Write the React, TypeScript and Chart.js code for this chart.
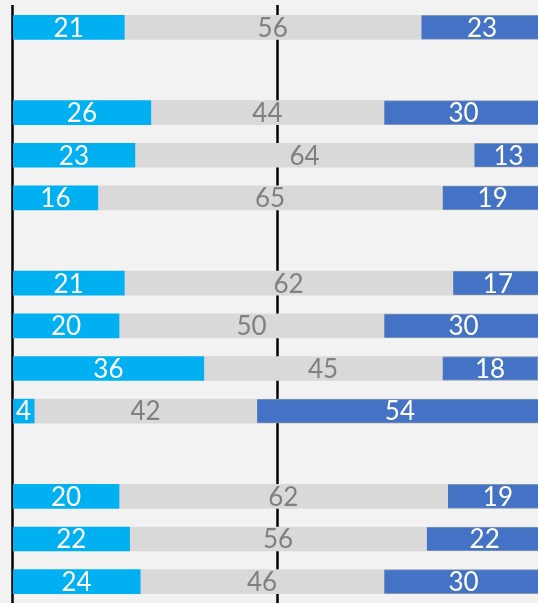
import React, { useEffect, useRef } from "react";
import { Chart, registerables } from "chart.js";

Chart.register(...registerables);

const categories = ["R1", "", "R3", "R4", "R5", " ", "R7", "R8", "R9", "R10", "  ", "R12", "R13", "R14"];
const lowValues = [21, null, 26, 23, 16, null, 21, 20, 36, 4, null, 20, 22, 24];
const midValues = [56, null, 44, 64, 65, null, 62, 50, 45, 42, null, 62, 56, 46];
const highValues = [23, null, 30, 13, 19, null, 17, 30, 18, 54, null, 19, 22, 30];
const refLines = [0, 50];

const labelPlugin = {
  id: "segLabels",
  afterDatasetsDraw(chart: any) {
    const ctx = chart.ctx;
    const xs = chart.scales.x;
    ctx.save();
    ctx.font = "26px Lato";
    ctx.textAlign = "center";
    ctx.textBaseline = "middle";
    chart.data.datasets.forEach((ds: any, di: number) => {
      const meta = chart.getDatasetMeta(di);
      ds.data.forEach((v: any, i: number) => {
        if (v == null) return;
        let start = 0;
        for (let k = 0; k < di; k++) start += chart.data.datasets[k].data[i] || 0;
        const x0 = xs.getPixelForValue(start);
        const x1 = xs.getPixelForValue(start + v);
        const el = meta.data[i];
        ctx.fillStyle = ds.labelColor;
        ctx.fillText(String(v), (x0 + x1) / 2, el.y + 1);
      });
    });
    ctx.restore();
  },
};

const linePlugin = {
  id: "refLines",
  beforeDatasetsDraw(chart: any) {
    const ctx = chart.ctx;
    const xs = chart.scales.x;
    const area = chart.chartArea;
    ctx.save();
    ctx.strokeStyle = "#000000";
    ctx.lineWidth = 2.5;
    refLines.forEach((v) => {
      const x = Math.round(xs.getPixelForValue(v)) - 0.5;
      ctx.beginPath();
      ctx.moveTo(x, area.top - 1);
      ctx.lineTo(x, 603);
      ctx.stroke();
    });
    ctx.restore();
  },
};

export default function App() {
  const ref = useRef<HTMLCanvasElement | null>(null);
  useEffect(() => {
    if (!ref.current) return;
    const chart = new Chart(ref.current, {
      type: "bar",
      data: {
        labels: categories,
        datasets: [
          { label: "low", data: lowValues, backgroundColor: "#00B0F0", borderWidth: 0, labelColor: "#FFFFFF" } as any,
          { label: "mid", data: midValues, backgroundColor: "#D9D9D9", borderWidth: 0, labelColor: "#808080" } as any,
          { label: "high", data: highValues, backgroundColor: "#4472C4", borderColor: "#8497B0", borderWidth: 1, labelColor: "#FFFFFF" } as any,
        ],
      },
      options: {
        indexAxis: "y",
        animation: false,
        responsive: false,
        maintainAspectRatio: false,
        layout: { padding: { top: 6, left: 13, right: 0, bottom: -2 } },
        datasets: { bar: { barThickness: 24 } } as any,
        plugins: { legend: { display: false }, tooltip: { enabled: false } },
        scales: {
          x: {
            stacked: true,
            min: 0,
            max: 99.06,
            display: false,
          },
          y: {
            stacked: true,
            display: false,
            offset: true,
          },
        },
      },
      plugins: [linePlugin, labelPlugin],
    });
    return () => chart.destroy();
  }, []);
  return (
    <div style={{ position: "fixed", left: 0, top: 0, width: 538, height: 603, background: "#F2F2F2" }}>
      <canvas ref={ref} width={538} height={603} style={{ display: "block", width: 538, height: 603 }} />
    </div>
  );
}
